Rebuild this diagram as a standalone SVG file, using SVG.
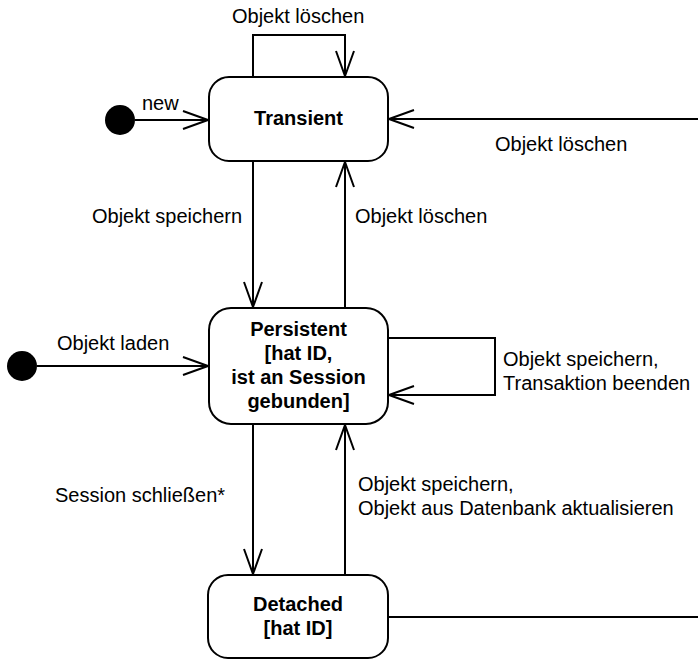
<svg xmlns="http://www.w3.org/2000/svg" width="698" height="660" viewBox="0 0 698 660">
<style>
.st{fill:#fff;stroke:#000;stroke-width:2}
.t{font-family:"Liberation Sans",Arial,sans-serif;font-size:20px;fill:#000}
.b{font-weight:bold;text-anchor:middle}
.c{fill:none;stroke:#000;stroke-width:2}
</style>
<defs>
<marker id="ah" viewBox="0 0 27 20" refX="26" refY="10" markerWidth="27" markerHeight="20" markerUnits="userSpaceOnUse" orient="auto">
<path d="M1,1 L26,10 L1,19" fill="none" stroke="#000" stroke-width="2"/>
</marker>
</defs>
<g id="connectors">
<path class="c" d="M135,120 H208" marker-end="url(#ah)"/>
<path class="c" d="M253,77 V35 H345 V76" marker-end="url(#ah)"/>
<path class="c" d="M253,161 V307" marker-end="url(#ah)"/>
<path class="c" d="M345,308 V162" marker-end="url(#ah)"/>
<path class="c" d="M698,119 H389" marker-end="url(#ah)"/>
<path class="c" d="M37,366 H208" marker-end="url(#ah)"/>
<path class="c" d="M388,338 H495 V395 H389" marker-end="url(#ah)"/>
<path class="c" d="M253,424 V574" marker-end="url(#ah)"/>
<path class="c" d="M345,575 V425" marker-end="url(#ah)"/>
<path class="c" d="M388,617 H698"/>
<text class="t" x="232" y="23">Objekt löschen</text>
<text class="t" x="142" y="110">new</text>
<text class="t" x="495" y="151">Objekt löschen</text>
<text class="t" x="92" y="223">Objekt speichern</text>
<text class="t" x="355" y="223">Objekt löschen</text>
<text class="t" x="57" y="350">Objekt laden</text>
<text class="t" x="503" y="366">Objekt speichern,</text>
<text class="t" x="503" y="390">Transaktion beenden</text>
<text class="t" x="55" y="502">Session schließen*</text>
<text class="t" x="358" y="491">Objekt speichern,</text>
<text class="t" x="358" y="515">Objekt aus Datenbank aktualisieren</text>
</g>
<g id="initial1"><circle cx="120" cy="120" r="15" fill="#000"/></g>
<g id="initial2"><circle cx="22" cy="366" r="15" fill="#000"/></g>
<g id="transient">
<rect class="st" x="209" y="77" width="179" height="84" rx="20"/>
<text class="t b" x="298.5" y="125">Transient</text>
</g>
<g id="persistent">
<rect class="st" x="209" y="308" width="179" height="116" rx="22"/>
<text class="t b" x="298.5" y="336">Persistent</text>
<text class="t b" x="298.5" y="360">[hat ID,</text>
<text class="t b" x="298.5" y="384">ist an Session</text>
<text class="t b" x="298.5" y="408">gebunden]</text>
</g>
<g id="detached">
<rect class="st" x="208" y="575" width="180" height="83" rx="20"/>
<text class="t b" x="298" y="611">Detached</text>
<text class="t b" x="298" y="635">[hat ID]</text>
</g>
</svg>
